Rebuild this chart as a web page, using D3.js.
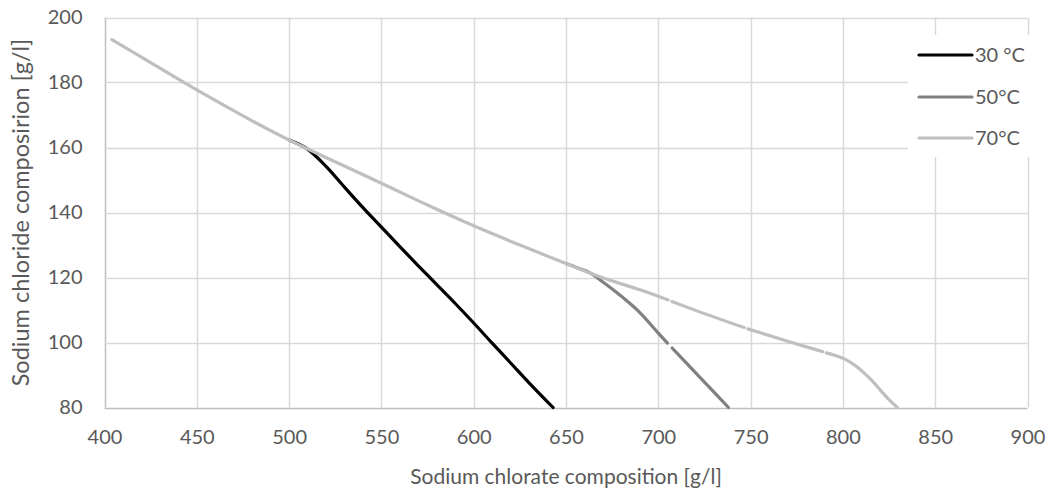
<!DOCTYPE html>
<html>
<head>
<meta charset="utf-8">
<script src="https://cdn.jsdelivr.net/npm/d3@7/dist/d3.min.js"></script>
<style>
  html, body { margin: 0; padding: 0; background: #fff; }
  svg { display: block; }
  text { font-family: Lato, "Open Sans", sans-serif; fill: #595959; }
</style>
</head>
<body>
<svg id="chart" width="1048" height="496"></svg>
<script>
// ---- data ----
const xTicks = [400, 450, 500, 550, 600, 650, 700, 750, 800, 850, 900];
const yTicks = [80, 100, 120, 140, 160, 180, 200];

const seriesNames = ["30 \u00B0C", "50\u00B0C", "70\u00B0C"];

const x30 = [500, 510, 520, 530, 540, 550, 560, 570, 580, 590, 600, 610, 620, 630, 643];
const y30 = [162.3, 159.5, 154.2, 147.8, 141.5, 135.5, 129.5, 123.6, 117.8, 112.0, 106.0, 99.8, 93.7, 87.6, 80.0];

const x50 = [650, 657, 663, 670, 680, 690, 700, 705, null, 707.5, 715, 725, 738];
const y50 = [124.3, 122.8, 121.4, 118.6, 114.2, 109.2, 102.9, 99.8, null, 98.3, 93.8, 87.8, 80.0];

const x70 = [404, 420, 435, 450, 465, 480, 500, 525, 550, 575, 600, 625, 650, 668, 690, 705.4, null, 707.4, 722, 746.5, null, 748.5, 770, 789, null, 791, 796, 801, 806, 811, 816, 821, 825, 829.5];
const y70 = [193.2, 187.8, 182.7, 177.7, 172.9, 168.2, 162.3, 155.6, 149.0, 142.3, 135.9, 130.0, 124.3, 120.3, 116.2, 113.1, null, 112.6, 109.5, 104.6, null, 104.2, 100.4, 97.2, null, 96.8, 96.0, 94.9, 93.2, 90.9, 88.1, 84.9, 82.4, 80.0];

const seriesX = [x30, x50, x70];
const seriesY = [y30, y50, y70];
const colors = ["#000000", "#808080", "#bfbfbf"];

// ---- layout ----
const svg = d3.select("#chart");
const x = d3.scaleLinear().domain([400, 900]).range([104.5, 1027.5]);
const y = d3.scaleLinear().domain([80, 200]).range([407.5, 17.5]);

// gridlines
const grid = svg.append("g");
grid.selectAll("line.v").data(xTicks).enter().append("line")
  .attr("x1", d => Math.round(x(d)) + 0.5).attr("x2", d => Math.round(x(d)) + 0.5)
  .attr("y1", y(200)).attr("y2", y(80))
  .attr("stroke", d => d === 400 ? "#bfbfbf" : "#d9d9d9").attr("stroke-width", 1.5);
grid.selectAll("line.h").data(yTicks).enter().append("line")
  .attr("x1", x(400)).attr("x2", x(900))
  .attr("y1", d => Math.round(y(d)) + 0.5).attr("y2", d => Math.round(y(d)) + 0.5)
  .attr("stroke", d => d === 80 ? "#bfbfbf" : "#d9d9d9").attr("stroke-width", 1.5);

// axes (labels only, through d3 axes)
const xAxis = svg.append("g").attr("transform", `translate(0,${y(80)})`)
  .call(d3.axisBottom(x).tickValues(xTicks).tickSize(0).tickPadding(22));
const yAxis = svg.append("g").attr("transform", `translate(${x(400)},0)`)
  .call(d3.axisLeft(y).tickValues(yTicks).tickSize(0).tickPadding(22));
[xAxis, yAxis].forEach(a => {
  a.select(".domain").remove();
  a.selectAll("text").style("font-size", "20px").style("font-family", "Lato, sans-serif").attr("fill", "#595959");
});

// series
const line = d3.line()
  .defined(d => d[0] !== null && d[1] !== null)
  .x(d => x(d[0])).y(d => y(d[1]))
  .curve(d3.curveMonotoneX);

seriesX.forEach((xs, i) => {
  const pts = xs.map((v, j) => [v, seriesY[i][j]]);
  svg.append("path")
    .attr("d", line(pts))
    .attr("fill", "none")
    .attr("stroke", colors[i])
    .attr("stroke-width", 3.2)
    .attr("stroke-linecap", "round")
    .attr("stroke-linejoin", "round");
});

// axis titles
svg.append("text")
  .attr("x", (x(400) + x(900)) / 2).attr("y", 484)
  .attr("text-anchor", "middle").style("font-size", "21px")
  .text("Sodium chlorate composition [g/l]");
svg.append("text")
  .attr("transform", `translate(29,${(y(80) + y(200)) / 2}) rotate(-90)`)
  .attr("text-anchor", "middle").style("font-size", "23.5px")
  .text("Sodium chloride composirion [g/l]");

// legend
const lg = svg.append("g");
lg.append("rect").attr("x", 908).attr("y", 35).attr("width", 140).attr("height", 122).attr("fill", "#fff");
const legendY = [55, 97, 138];
seriesNames.forEach((n, i) => {
  lg.append("line").attr("x1", 919).attr("x2", 972)
    .attr("y1", legendY[i]).attr("y2", legendY[i])
    .attr("stroke", colors[i]).attr("stroke-width", 3.2).attr("stroke-linecap", "round");
  lg.append("text").attr("x", 975).attr("y", legendY[i]).attr("dy", "0.35em")
    .style("font-size", "20px").text(n);
});
</script>
</body>
</html>
